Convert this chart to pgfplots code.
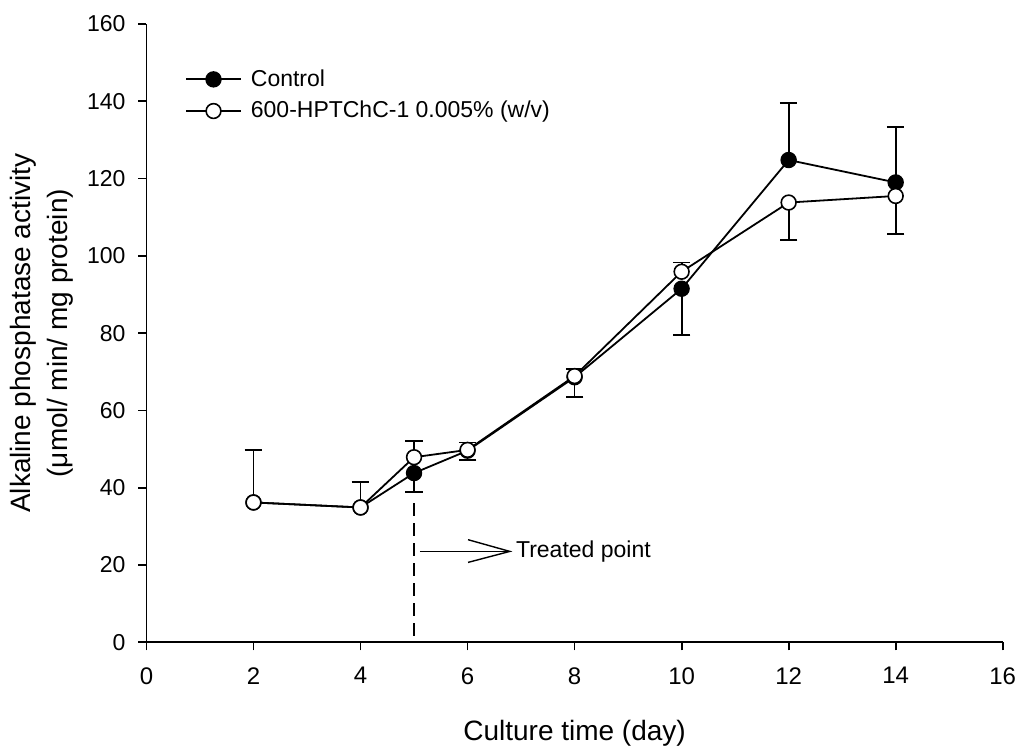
\documentclass[border=0pt]{standalone}
\usepackage{fontspec}
\setmainfont{Liberation Sans}
\usepackage{pgfplots}
\pgfplotsset{compat=1.18}
\usepackage{pgfplotstable}

\pgfplotstableread{
x y
2 36.2
4 34.9
5 43.8
6 49.6
8 68.6
10 91.5
12 124.8
14 119.0
}\control
\pgfplotstableread{
x y
2 36.2
4 34.9
5 47.9
6 49.8
8 68.9
10 95.9
12 113.8
14 115.5
}\treated
\pgfplotstableread{
x y e
2 36.2 13.6
4 34.9 6.5
12 124.8 14.8
14 119.0 14.4
}\ctrlup
\pgfplotstableread{
x y e
5 43.8 4.8
6 49.6 2.4
8 68.6 5.2
10 91.5 11.9
}\ctrldown
\pgfplotstableread{
x y e
5 47.9 4.1
6 49.8 1.9
8 68.9 1.9
10 95.9 2.4
}\trtup
\pgfplotstableread{
x y e
12 113.8 9.7
14 115.5 9.8
}\trtdown

\pgfplotsset{
  errstyle/.style={black, forget plot, only marks, mark=none,
    error bars/y explicit,
    error bars/error bar style={line width=0.9pt},
    error bars/error mark options={rotate=90, mark size=4.4pt, line width=0.9pt}},
}

\begin{document}
\begin{tikzpicture}
\useasboundingbox (-73.25pt,-53.15pt) rectangle (436.95pt,321.3pt);
\begin{axis}[
  at={(0pt,0pt)}, anchor=south west,
  scale only axis, width=428.3pt, height=309.3pt,
  xmin=0, xmax=16, ymin=0, ymax=160,
  xtick={0,2,...,16}, ytick={0,20,...,160},
  axis x line*=bottom, axis y line*=left,
  axis line style={line width=0.9pt, black},
  tick align=outside, major tick length=4pt,
  tick style={line width=0.9pt, black},
  /pgf/number format/assume math mode=true,
  xticklabel style={font=\fontsize{12}{14}\selectfont, yshift=-5pt},
  yticklabel style={font=\fontsize{11.5}{13}\selectfont, xshift=-3pt},
  xlabel={Culture time (day)},
  xlabel style={font=\fontsize{14}{17}\selectfont, at={(axis description cs:0.5,0)}, anchor=base, yshift=-49pt, inner sep=0pt},
  ylabel={Alkaline phosphatase activity\\(μmol/ min/ mg protein)},
  ylabel style={align=center, font=\fontsize{14}{18.5}\selectfont, at={(axis description cs:-0.0848,0.5)}, anchor=south, inner sep=0pt},
  clip=false,
  legend style={draw=none, fill=none, at={(axis description cs:0.0377,0.9399)}, anchor=north west,
    font=\fontsize{11.5}{13}\selectfont, row sep=2pt, column sep=2.5pt},
  legend cell align=left,
  legend image code/.code={\draw[mark repeat=2,mark phase=2,#1] plot coordinates {(0pt,0pt) (13.75pt,0pt) (27.5pt,0pt)};},
]
% treated point marker line
\addplot[black, line width=0.9pt, dash pattern=on 6.5pt off 3.5pt, forget plot] coordinates {(5,36) (5,0)};
\draw[black, line width=0.7pt] (axis cs:5.11,23.53) -- (axis cs:6.79,23.53);
\draw[black, line width=0.7pt] (axis cs:6.01,26.56) -- (axis cs:6.79,23.53) -- (axis cs:6.01,20.69);
\node[anchor=west, inner sep=0pt, font=\fontsize{11.5}{13}\selectfont] at (axis cs:6.9,23.53) {Treated point};
% error bars
\addplot[errstyle, error bars/y dir=plus] table[x=x, y=y, y error=e] {\ctrlup};
\addplot[errstyle, error bars/y dir=minus] table[x=x, y=y, y error=e] {\ctrldown};
\addplot[errstyle, error bars/y dir=plus] table[x=x, y=y, y error=e] {\trtup};
\addplot[errstyle, error bars/y dir=minus] table[x=x, y=y, y error=e] {\trtdown};
% data
\addplot[black, line width=0.9pt, mark=*, mark size=3.7pt, mark options={fill=black, line width=0.8pt}] table[x=x, y=y] {\control};
\addlegendentry{Control}
\addplot[black, line width=0.9pt, mark=*, mark size=3.7pt, mark options={fill=white, line width=0.8pt}] table[x=x, y=y] {\treated};
\addlegendentry{600-HPTChC-1 0.005\% (w/v)}
\end{axis}
\end{tikzpicture}
\end{document}
